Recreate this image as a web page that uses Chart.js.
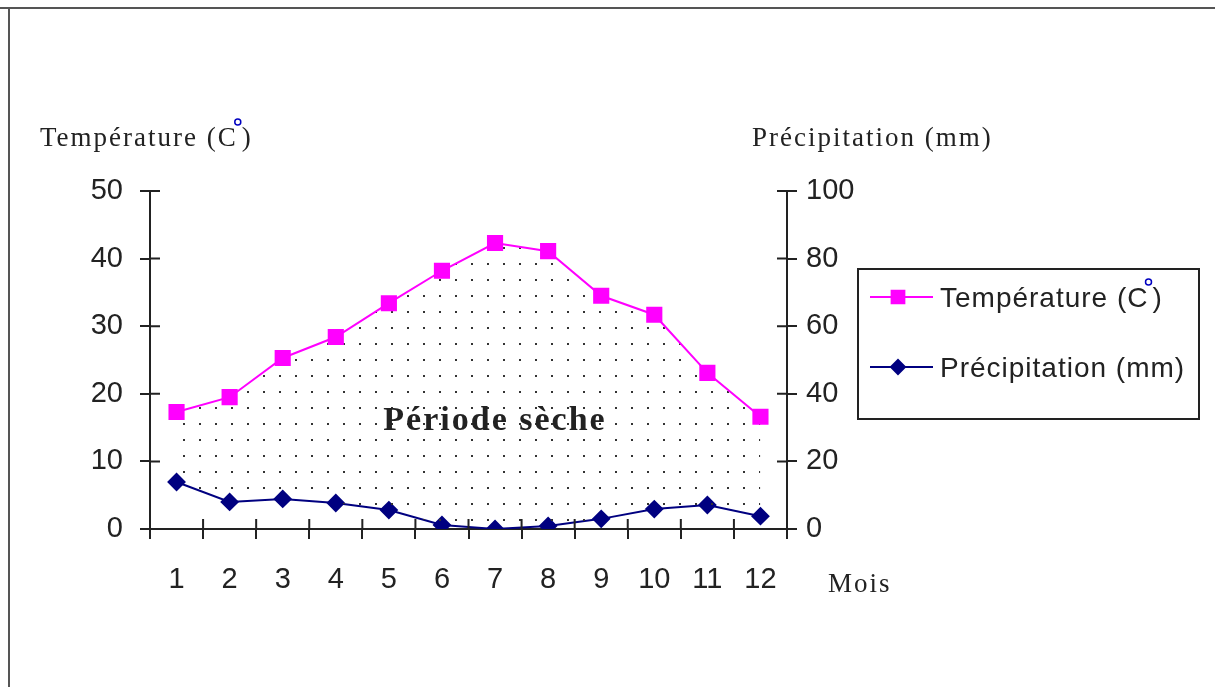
<!DOCTYPE html>
<html>
<head>
<meta charset="utf-8">
<script src="https://cdn.jsdelivr.net/npm/chart.js@4/dist/chart.umd.min.js"></script>
<style>
  html, body { margin: 0; padding: 0; background: #fff; }
  #chart { display: block; }
</style>
</head>
<body>
<canvas id="chart" width="1215" height="687"></canvas>
<script>
// DATA
// ====
const months = ['1', '2', '3', '4', '5', '6', '7', '8', '9', '10', '11', '12'];
const temperature = [17.3, 19.5, 25.3, 28.4, 33.4, 38.2, 42.3, 41.1, 34.5, 31.7, 23.1, 16.6];
const precipitation = [13.9, 8.0, 8.9, 7.7, 5.6, 1.2, 0, 0.9, 3.0, 5.9, 7.1, 3.8];
const seriesLabels = ['Température (C°)', 'Précipitation (mm)'];
const axisTitles = ['Température (C°)', 'Précipitation (mm)', 'Mois'];
const areaLabel = 'Période sèche';

const INK = '#222';
const MAGENTA = '#ff00ff';
const NAVY = '#000080';
const SANS = '"Liberation Sans", Arial, sans-serif';
const SERIF = '"Liberation Serif", "Times New Roman", serif';

// dotted fill between the two curves
function makeDotPattern() {
    const c = document.createElement('canvas');
    c.width = 16;
    c.height = 16;
    const g = c.getContext('2d');
    g.fillStyle = '#333';
    g.fillRect(7, 7, 2, 2);
    return document.getElementById('chart').getContext('2d').createPattern(c, 'repeat');
}

// text with a small blue circle in place of the degree sign
function drawDegreeText(ctx, text, x, y, rise) {
    const parts = text.split('°');
    ctx.textAlign = 'left';
    ctx.fillText(parts[0], x, y);
    if (parts.length < 2) return;
    const w = ctx.measureText(parts[0]).width;
    ctx.save();
    ctx.strokeStyle = '#0000c0';
    ctx.lineWidth = 1.5;
    ctx.beginPath();
    ctx.arc(x + w, y - rise, 3, 0, Math.PI * 2);
    ctx.stroke();
    ctx.restore();
    ctx.fillText(parts[1], x + w + 4, y);
}

// FRAME, TITLES, INNER TICKS, LEGEND
// ==================================
const decorations = {
    id: 'decorations',
    beforeDraw(chart) {
        const ctx = chart.ctx;
        ctx.save();
        ctx.fillStyle = '#fff';
        ctx.fillRect(0, 0, chart.width, chart.height);
        ctx.strokeStyle = '#555';
        ctx.lineWidth = 2;
        ctx.beginPath();
        ctx.moveTo(0, 8);
        ctx.lineTo(chart.width, 8);
        ctx.moveTo(9, 8);
        ctx.lineTo(9, chart.height);
        ctx.stroke();
        ctx.restore();
    },
    afterDraw(chart) {
        const ctx = chart.ctx;
        const { x, y, y1 } = chart.scales;
        ctx.save();

        // tick marks crossing the axes (inner half)
        ctx.strokeStyle = INK;
        ctx.lineWidth = 2;
        ctx.beginPath();
        y.ticks.forEach((t) => {
            const py = y.getPixelForValue(t.value);
            ctx.moveTo(y.right, py);
            ctx.lineTo(y.right + 10, py);
        });
        y1.ticks.forEach((t) => {
            const py = y1.getPixelForValue(t.value);
            ctx.moveTo(y1.left, py);
            ctx.lineTo(y1.left - 10, py);
        });
        const n = months.length;
        for (let i = 0; i <= n; i++) {
            const px = x.left + (i * x.width) / n;
            ctx.moveTo(px, x.top);
            ctx.lineTo(px, x.top - 10);
        }
        ctx.stroke();

        // axis titles
        ctx.fillStyle = INK;
        ctx.textBaseline = 'alphabetic';
        ctx.font = '27px ' + SERIF;
        ctx.letterSpacing = '2px';
        drawDegreeText(ctx, axisTitles[0], 40, 146, 24);
        ctx.fillText(axisTitles[1], 752, 146);
        ctx.fillText(axisTitles[2], 828, 592);

        // label in the dotted area
        ctx.font = 'bold 34px ' + SERIF;
        ctx.letterSpacing = '2px';
        ctx.textAlign = 'center';
        ctx.fillText(areaLabel, 495, 430);

        // legend box
        const box = { left: 858, top: 269, right: 1199, bottom: 419 };
        ctx.letterSpacing = '0px';
        ctx.lineWidth = 2;
        ctx.strokeStyle = INK;
        ctx.strokeRect(box.left, box.top, box.right - box.left, box.bottom - box.top);
        const rows = [297, 367];
        chart.data.datasets.forEach((ds, i) => {
            const ry = rows[i];
            ctx.strokeStyle = ds.borderColor;
            ctx.lineWidth = 2;
            ctx.beginPath();
            ctx.moveTo(870, ry);
            ctx.lineTo(933, ry);
            ctx.stroke();
            Chart.helpers.drawPoint(ctx, {
                pointStyle: ds.pointStyle,
                radius: ds.pointRadius - 1,
                borderWidth: 1,
            }, 898, ry);
            ctx.fillStyle = ds.pointBackgroundColor;
            ctx.fill();
            ctx.fillStyle = INK;
            ctx.textBaseline = 'alphabetic';
            ctx.font = '28px ' + SANS;
            ctx.letterSpacing = '1px';
            drawDegreeText(ctx, ds.label, 940, ry + 10, 25);
        });
        ctx.restore();
    },
};

const tickFont = { family: SANS, size: 29 };

new Chart(document.getElementById('chart'), {
    type: 'line',
    data: {
        labels: months,
        datasets: [
            {
                label: seriesLabels[0],
                data: temperature,
                yAxisID: 'y',
                borderColor: MAGENTA,
                borderWidth: 2,
                pointStyle: 'rect',
                pointRadius: 10,
                pointBackgroundColor: MAGENTA,
                pointBorderColor: MAGENTA,
                fill: { target: '+1', above: makeDotPattern(), below: makeDotPattern() },
                tension: 0,
            },
            {
                label: seriesLabels[1],
                data: precipitation,
                yAxisID: 'y1',
                borderColor: NAVY,
                borderWidth: 2,
                pointStyle: 'rectRot',
                pointRadius: 8,
                pointBackgroundColor: NAVY,
                pointBorderColor: NAVY,
                fill: false,
                tension: 0,
            },
        ],
    },
    options: {
        responsive: false,
        animation: false,
        layout: { padding: { top: 191, left: 0, right: 0, bottom: 0 } },
        plugins: {
            legend: { display: false },
            tooltip: { enabled: false },
        },
        scales: {
            x: {
                type: 'category',
                offset: true,
                grid: { offset: true, drawOnChartArea: false, tickLength: 10, color: INK, lineWidth: 2 },
                border: { color: INK, width: 2 },
                ticks: { font: tickFont, color: INK, padding: 24, maxRotation: 0, autoSkip: false },
                afterFit: (scale) => { scale.height = 158; },
            },
            y: {
                position: 'left',
                min: 0,
                max: 50,
                grid: { drawOnChartArea: false, tickLength: 10, color: INK, lineWidth: 2 },
                border: { color: INK, width: 2 },
                ticks: { stepSize: 10, font: tickFont, color: INK, padding: 17 },
                afterFit: (scale) => { scale.width = 150; },
            },
            y1: {
                position: 'right',
                min: 0,
                max: 100,
                grid: { drawOnChartArea: false, tickLength: 10, color: INK, lineWidth: 2 },
                border: { color: INK, width: 2 },
                ticks: { stepSize: 20, font: tickFont, color: INK, padding: 9 },
                afterFit: (scale) => { scale.width = 428; },
            },
        },
    },
    plugins: [decorations],
});
</script>
</body>
</html>
